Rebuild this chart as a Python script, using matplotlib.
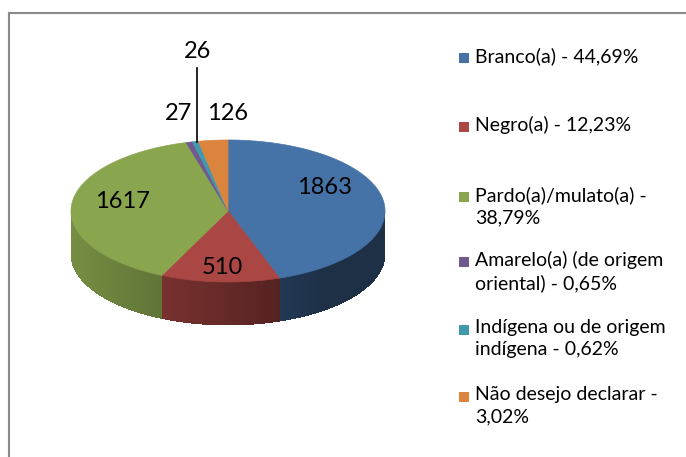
import numpy as np
import matplotlib
matplotlib.use("Agg")
import matplotlib.pyplot as plt
from matplotlib.patches import Polygon, Rectangle

## data
categories = ["Branco(a)", "Negro(a)", "Pardo(a)/mulato(a)",
              "Amarelo(a) (de origem oriental)", "Indígena ou de origem indígena",
              "Não desejo declarar"]
counts = [1863, 510, 1617, 27, 26, 126]
legend_labels = ["Branco(a) - 44,69%",
                 "Negro(a) - 12,23%",
                 "Pardo(a)/mulato(a) -\n38,79%",
                 "Amarelo(a) (de origem\noriental) - 0,65%",
                 "Indígena ou de origem\nindígena - 0,62%",
                 "Não desejo declarar -\n3,02%"]
colors = ["#4572A7", "#AA4643", "#89A54E", "#71588F", "#4198AF", "#DB843D"]

## layout (pixels)
W, H = 686, 457
cx, cy = 228, 211      # centre of the top face
a, b = 157, 71         # ellipse half axes
depth = 43
label_pos = [(325, 187), (222, 268), (122, 201), (178, 113), None, (228, 113)]
legend_y = [58, 127, 197, 262, 330, 397]
font = "Lato"


def pt(theta):
    # theta in degrees, clockwise from 12 o'clock
    t = np.radians(theta)
    return cx + a * np.sin(t), cy - b * np.cos(t)


def shade(c, f):
    rgb = np.array(matplotlib.colors.to_rgb(c))
    return tuple(np.clip(rgb * f, 0, 1))


fig = plt.figure(figsize=(W / 100, H / 100), dpi=100)
ax = fig.add_axes([0, 0, 1, 1])
ax.set_xlim(0, W)
ax.set_ylim(H, 0)
ax.axis("off")

total = float(sum(counts))
edges = np.concatenate([[0], np.cumsum(counts)]) / total * 360.0

# front side of the cylinder, split in thin strips for a simple gradient
for i, c in enumerate(colors):
    lo, hi = max(edges[i], 90), min(edges[i + 1], 270)
    if hi <= lo:
        continue
    steps = np.linspace(lo, hi, max(int((hi - lo) * 2), 2))
    for t0, t1 in zip(steps[:-1], steps[1:]):
        x0, y0 = pt(t0)
        x1, y1 = pt(min(t1 + 0.4, hi))
        f = 0.86 - 0.55 * ((x0 + x1) / 2 - (cx - a)) / (2 * a)
        f = max(f, 0.42)
        ax.add_patch(Polygon([(x0, y0), (x1, y1), (x1, y1 + depth), (x0, y0 + depth)],
                             closed=True, fc=shade(c, f), ec="none", antialiased=False))

# top face
for i, c in enumerate(colors):
    th = np.linspace(edges[i], edges[i + 1], max(int(edges[i + 1] - edges[i]) * 2, 3))
    verts = [(cx, cy)] + [pt(t) for t in th]
    ax.add_patch(Polygon(verts, closed=True, fc=c, ec=c, lw=0.5))

# value labels
for i, p in enumerate(label_pos):
    if p is None:
        continue
    ax.text(p[0], p[1], str(counts[i]), fontsize=17, family=font,
            ha="center", va="center")

# small slice with leader line
mid = (edges[4] + edges[5]) / 2
lx, ly = pt(mid)
ax.plot([lx + 2, lx + 2], [ly, 68], color="black", lw=1.2)
ax.text(lx + 2, 52, str(counts[4]), fontsize=17, family=font, ha="center", va="center")

# legend
for y, c, lab in zip(legend_y, colors, legend_labels):
    ax.add_patch(Rectangle((459, y - 5), 10, 10, fc=c, ec="none"))
    ax.text(475, y - 11, lab, fontsize=14, family=font, ha="left", va="top",
            linespacing=1.38)

# chart frame
ax.plot([9, W], [13, 13], color="#8a8a8a", lw=1.5)
ax.plot([9, 9], [13, H], color="#8a8a8a", lw=1.5)

fig.savefig("out.png", dpi=100)
